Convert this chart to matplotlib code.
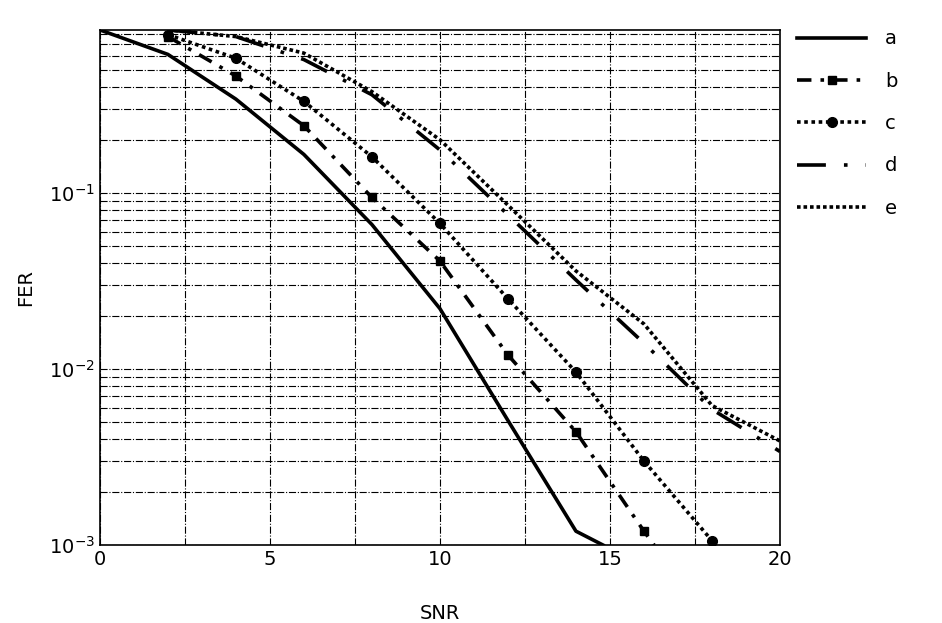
import matplotlib
matplotlib.use("Agg")
import matplotlib.pyplot as plt
from matplotlib.ticker import MultipleLocator, LogLocator

xa = [0, 2, 4, 6, 8, 10, 12, 14, 14.8]
ya = [0.84, 0.61, 0.34, 0.165, 0.066, 0.022, 0.0051, 0.0012, 0.001]
xb = [2, 4, 6, 8, 10, 12, 14, 16, 16.3]
yb = [0.77, 0.46, 0.24, 0.094, 0.041, 0.012, 0.0044, 0.0012, 0.001]
xc = [2, 4, 6, 8, 10, 12, 14, 16, 18]
yc = [0.79, 0.58, 0.33, 0.16, 0.067, 0.025, 0.0096, 0.0030, 0.00106]
xd = [2, 4, 6, 8, 10, 12, 14, 16, 18, 20]
yd = [0.84, 0.77, 0.57, 0.36, 0.175, 0.075, 0.032, 0.014, 0.0059, 0.0034]
xe = [2, 4, 6, 8, 10, 12, 14, 16, 18, 20]
ye = [0.84, 0.77, 0.62, 0.375, 0.2, 0.085, 0.036, 0.018, 0.0062, 0.0039]

fig = plt.figure(figsize=(9.42, 6.23), dpi=100)
ax = fig.add_axes([0.106, 0.125, 0.722, 0.827])
lw = 2.6
ax.plot(xa, ya, color='black', lw=lw, ls='-', label='a')
ax.plot(xb, yb, color='black', lw=lw, ls=(0, (4, 2.5, 1, 2.5)), marker='s', markevery=list(range(8)), ms=6, label='b')
ax.plot(xc, yc, color='black', lw=lw, ls=(0, (1, 1)), marker='o', ms=7, label='c')
ax.plot(xd, yd, color='black', lw=lw, ls=(0, (8, 5, 1, 5)), label='d')
ax.plot(xe, ye, color='black', lw=lw, ls=(0, (1, 0.8)), label='e')
ax.set_yscale('log')
ax.set_xlim(0, 20)
ax.set_ylim(1e-3, 0.84)
ax.xaxis.set_major_locator(MultipleLocator(5))
ax.xaxis.set_minor_locator(MultipleLocator(2.5))
ax.yaxis.set_minor_locator(LogLocator(base=10, subs=range(2, 10)))
gs = dict(color='black', lw=0.8, ls='-.')
ax.grid(True, which='both', **gs)
ax.tick_params(which='both', length=0, labelsize=14)
ax.set_xlabel('SNR', fontsize=14, labelpad=25)
ax.set_ylabel('FER', fontsize=14, labelpad=10)
for s in ax.spines.values():
    s.set_linewidth(1.2)
ax.legend(loc='upper left', bbox_to_anchor=(1.0, 1.035), frameon=False, fontsize=14,
          handlelength=3.5, labelspacing=1.2, markerfirst=True, handletextpad=1.0)
fig.savefig('out.png')
